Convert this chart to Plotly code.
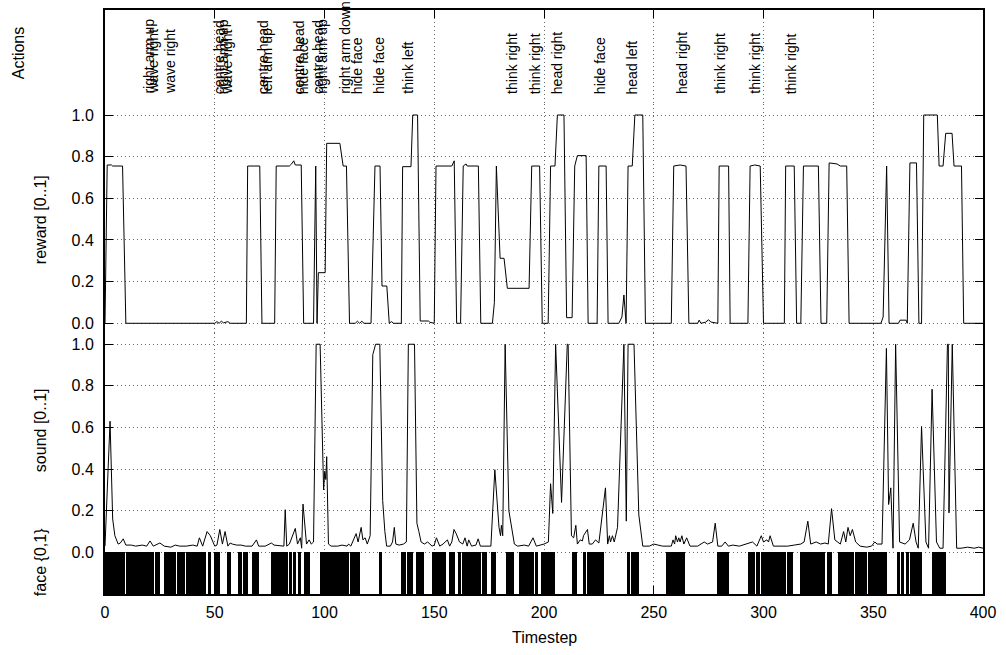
import numpy as np
import plotly.graph_objects as go

# ---------------- data ----------------
n_steps = 400

reward_t = [0, 1, 3, 3.5, 8, 9.5, 50, 51, 52, 53, 54, 56, 57, 64.4, 65, 70.5, 71.5, 77.3, 78, 84, 85, 86, 86.7,
            89.4, 90.5, 95, 96, 96.6, 97.2, 100.3, 101, 107, 108.5, 110, 111.4, 114, 115, 116, 117, 118, 121.2,
            123, 125.3, 126.2, 128.4, 129.5, 130.5, 131.5, 135, 135.6, 139.4, 140.2, 142.4, 143.6, 147.4, 148,
            150, 150.8, 158, 159.1, 160.2, 162, 163.2, 164.5, 165, 170.1, 171.2, 176.5, 177.4, 178.3, 180, 181.8,
            183.3, 193.2, 194.4, 198, 199.2, 201.9, 203, 205, 206.1, 209.1, 210.3, 212.8, 214, 215.2, 219.2,
            220.1, 224.2, 225, 228.3, 229.2, 234.1, 235.5, 236.4, 237.4, 238.3, 240.2, 241.4, 245, 246.2, 258,
            259.1, 262, 264.7, 266, 270, 270.7, 271.5, 273.5, 275, 276, 279.2, 279.8, 284.1, 284.8, 292.9, 293.9,
            296, 298.5, 300, 309.5, 310.1, 314, 315.1, 317, 318.2, 325, 326.2, 328.8, 329.9, 333.5, 335, 337.9,
            339, 353.5, 354.5, 356.1, 357.2, 361.5, 362.2, 365, 365.5, 366.7, 369.7, 370.8, 372, 373, 379.2, 380,
            381.8, 383, 385.9, 386.8, 390.2, 391.2, 400]
reward_v = [0.0, 0.76, 0.76, 0.755, 0.755, 0.0, 0.0, 0.008, 0.0, 0.01, 0.002, 0.008, 0.0, 0.0, 0.755, 0.755,
            0.0, 0.0, 0.755, 0.755, 0.765, 0.78, 0.76, 0.76, 0.0, 0.0, 0.755, 0.0, 0.243, 0.243, 0.864, 0.864,
            0.755, 0.755, 0.0, 0.0, 0.01, 0.0, 0.01, 0.0, 0.0, 0.755, 0.755, 0.179, 0.179, 0.0, 0.008, 0.0, 0.0,
            0.752, 0.752, 1.0, 1.0, 0.011, 0.011, 0.005, 0.0, 0.755, 0.755, 0.78, 0.0, 0.0, 0.755, 0.765, 0.755,
            0.755, 0.0, 0.0, 0.1, 0.755, 0.312, 0.312, 0.168, 0.168, 0.755, 0.755, 0.0, 0.0, 0.755, 0.755, 1.0,
            1.0, 0.027, 0.027, 0.755, 0.805, 0.805, 0.0, 0.0, 0.755, 0.755, 0.0, 0.0, 0.03, 0.136, 0.0, 0.755,
            0.755, 1.0, 1.0, 0.0, 0.0, 0.755, 0.76, 0.755, 0.0, 0.0, 0.015, 0.0, 0.005, 0.017, 0.006, 0.0, 0.755,
            0.755, 0.0, 0.0, 0.755, 0.76, 0.755, 0.0, 0.0, 0.755, 0.755, 0.0, 0.0, 0.755, 0.755, 0.0, 0.0, 0.77,
            0.765, 0.755, 0.755, 0.0, 0.0, 0.03, 0.755, 0.0, 0.0, 0.015, 0.015, 0.0, 0.77, 0.77, 0.0, 0.0, 1.0,
            1.0, 0.755, 0.755, 0.912, 0.912, 0.755, 0.755, 0.0, 0.0]

sound_t = [0, 1, 2.3, 3.5, 4.5, 6, 7, 8.3, 9.5, 12, 14, 17, 19, 20.5, 22, 25, 27, 30, 32, 34, 37, 40, 42, 43,
           44.5, 46.5, 48, 50, 51, 52.3, 53.5, 54.7, 56, 57, 58, 60, 62, 64, 67, 69, 70, 73, 75.8, 77, 80, 81.5,
           82.1, 82.8, 84, 86.7, 87.7, 89, 89.6, 90.2, 91.8, 93, 94, 95, 96.2, 98, 99.6, 100.1, 100.6, 101, 101.8,
           103, 106, 108, 110.3, 111, 112, 114.4, 115.3, 116.7, 117.5, 118.5, 119.5, 120.8, 122, 123.3, 125.2,
           126.5, 127.5, 128.3, 130, 131, 131.8, 132.5, 134, 136, 137.3, 138.2, 141, 142.1, 143, 144, 145.5, 147,
           149, 150, 151, 152.5, 154, 156, 157, 158, 159, 160, 161.5, 163, 164, 165, 165.7, 167, 169, 170, 171,
           173, 175.8, 177.6, 179.5, 180.2, 180.6, 181.2, 182.3, 184, 185.3, 186.5, 188, 191, 193, 195, 196.5,
           199, 200, 202, 203, 204, 205.3, 208, 210.6, 211, 212.5, 213.5, 214.5, 215.2, 216.5, 217.5, 218,
           219.8, 220.6, 222, 223.5, 225, 228, 229, 229.8, 230.3, 231.2, 232, 233.5, 236.4, 237.5, 238.3, 241,
           243.2, 244, 245, 248, 250, 252, 254, 256, 258, 258.8, 259.5, 260, 260.8, 261.4, 262, 262.8, 263.7,
           265, 266.5, 270, 273, 274.5, 276.8, 278, 279.2, 281, 282.5, 284, 286, 289, 292, 295, 297, 299, 300,
           301.5, 302.3, 303, 304.5, 308, 311, 314, 317, 318.5, 320.2, 321.5, 324, 326, 328, 329.5, 331, 332.5,
           335, 336.5, 337.5, 338.5, 339.5, 340.5, 342, 344, 347, 349.2, 350.7, 351.8, 354, 356, 357, 358, 359,
           360.2, 362, 364.5, 366.5, 368.2, 369.5, 370.5, 372, 374, 375.2, 376.8, 378.8, 380.3, 381.8, 383.8,
           384.2, 384.5, 386, 388, 390, 393, 396, 398, 400]
sound_v = [0.03, 0.3, 0.63, 0.16, 0.08, 0.04, 0.045, 0.065, 0.035, 0.035, 0.03, 0.035, 0.03, 0.055, 0.03, 0.045,
           0.03, 0.025, 0.035, 0.03, 0.03, 0.035, 0.03, 0.07, 0.03, 0.1, 0.08, 0.03, 0.035, 0.11, 0.04, 0.1, 0.03,
           0.045, 0.04, 0.035, 0.035, 0.03, 0.03, 0.06, 0.03, 0.03, 0.045, 0.035, 0.03, 0.03, 0.205, 0.03, 0.04,
           0.115, 0.04, 0.07, 0.02, 0.232, 0.04, 0.06, 0.04, 0.05, 1.0, 1.0, 0.3, 0.39, 0.35, 0.46, 0.04, 0.03,
           0.03, 0.035, 0.03, 0.04, 0.03, 0.09, 0.05, 0.12, 0.06, 0.07, 0.04, 0.08, 0.95, 1.0, 1.0, 0.25, 0.1,
           0.03, 0.03, 0.05, 0.12, 0.04, 0.035, 0.04, 0.05, 1.0, 1.0, 0.14, 0.1, 0.05, 0.04, 0.05, 0.03, 0.035,
           0.07, 0.03, 0.04, 0.06, 0.03, 0.05, 0.11, 0.09, 0.05, 0.04, 0.07, 0.03, 0.06, 0.03, 0.035, 0.065, 0.03,
           0.03, 0.03, 0.397, 0.12, 0.08, 0.13, 0.08, 1.0, 0.2, 0.12, 0.04, 0.03, 0.035, 0.03, 0.07, 0.03, 0.035,
           0.04, 0.05, 0.33, 0.187, 1.0, 0.24, 1.0, 1.0, 0.08, 0.07, 0.13, 0.04, 0.06, 0.055, 0.08, 0.11, 0.04,
           0.04, 0.06, 0.045, 0.31, 0.04, 0.08, 0.05, 0.08, 0.05, 0.12, 1.0, 0.15, 1.0, 1.0, 0.18, 0.1, 0.03,
           0.03, 0.04, 0.035, 0.03, 0.03, 0.03, 0.06, 0.04, 0.08, 0.05, 0.07, 0.05, 0.08, 0.04, 0.07, 0.03, 0.03,
           0.05, 0.04, 0.05, 0.14, 0.03, 0.03, 0.05, 0.03, 0.035, 0.03, 0.04, 0.05, 0.03, 0.08, 0.05, 0.06, 0.05,
           0.08, 0.03, 0.03, 0.03, 0.035, 0.04, 0.05, 0.15, 0.04, 0.05, 0.04, 0.045, 0.04, 0.21, 0.06, 0.04, 0.1,
           0.05, 0.12, 0.08, 0.11, 0.05, 0.03, 0.025, 0.03, 0.05, 0.04, 0.04, 0.98, 0.23, 0.31, 0.02, 1.0, 0.05,
           0.04, 0.06, 0.14, 0.05, 0.02, 0.605, 0.05, 0.02, 0.784, 0.05, 0.02, 0.02, 1.0, 1.0, 0.19, 1.0, 0.02,
           0.02, 0.025, 0.02, 0.025, 0.02]

# timesteps (inclusive ranges) where face = 0; face = 1 elsewhere
face_gap_start = [9, 22, 25, 32, 36, 46, 48, 52, 57, 62, 65, 70, 83, 85, 87, 89, 93, 111, 116, 126, 137, 140,
                  145, 155, 159, 162, 171, 174, 178, 186, 195, 197, 205, 215, 219, 227, 239, 243, 264, 284, 296,
                  298, 310, 313, 328, 331, 341, 347, 356, 362, 364, 366, 372, 383]
face_gap_end = [9, 22, 26, 32, 36, 46, 49, 55, 60, 62, 66, 75, 83, 85, 87, 90, 97, 111, 124, 134, 137, 141,
                148, 156, 160, 162, 171, 175, 182, 188, 195, 198, 212, 217, 219, 237, 239, 255, 278, 292, 296,
                298, 310, 316, 328, 333, 341, 347, 360, 362, 364, 366, 376, 399]

action_labels = ["right arm up", "wave right", "wave right", "centre head", "right arm up", "wave right",
                 "centre head", "left arm up", "centre head", "hide face", "centre head", "right arm up",
                 "right arm down", "hide face", "hide face", "think left", "think right", "think right",
                 "head right", "hide face", "head left", "head right", "think right", "think right",
                 "think right"]
action_t = [20.1, 22, 29.8, 52, 54.1, 56, 72, 74, 88.6, 90.6, 97, 99, 109.5, 115.2, 125, 137.9, 185.6, 196.2,
            206, 225.8, 240.3, 262.9, 280.3, 296.2, 312.9]

x_ticks = [0, 50, 100, 150, 200, 250, 300, 350, 400]
y_ticks = [0.0, 0.2, 0.4, 0.6, 0.8, 1.0]
y_ticklabels = ["0.0", "0.2", "0.4", "0.6", "0.8", "1.0"]

# ---------------- build ----------------
face = np.ones(n_steps)
for s, e in zip(face_gap_start, face_gap_end):
    face[s:e + 1] = 0
face_x = [t + 0.5 for t in range(n_steps) if face[t] == 1]

FONT = "Liberation Sans, Arial, Helvetica, sans-serif"
TICK_FS = 16
TITLE_FS = 16
LABEL_FS = 14
GRID = dict(showgrid=True, gridcolor="#666666", griddash="1px,3px", gridwidth=1)

fig = go.Figure()
fig.add_trace(go.Bar(x=face_x, y=[0.2] * len(face_x), base=-0.2, width=1.45,
                     marker=dict(color="black", line=dict(width=0)),
                     xaxis="x", yaxis="y", showlegend=False, hoverinfo="skip"))
fig.add_trace(go.Scatter(x=sound_t, y=sound_v, mode="lines", line=dict(color="black", width=1),
                         xaxis="x", yaxis="y", showlegend=False))
fig.add_trace(go.Scatter(x=reward_t, y=reward_v, mode="lines", line=dict(color="black", width=1),
                         xaxis="x2", yaxis="y2", showlegend=False))
fig.add_trace(go.Scatter(x=[None], y=[None], mode="lines", xaxis="x3", yaxis="y3", showlegend=False,
                         hoverinfo="skip"))

px_left, px_right, px_top, px_bot = 105, 985, 10, 594
W, Hh = 1006, 655
H = px_bot - px_top
PW = px_right - px_left


def frac(py):
    return (px_bot - py) / H


def xfrac(px):
    return (px - px_left) / PW


d_sound = frac(333)
d_reward = frac(104)

common_x = dict(range=[0, 400], tickvals=x_ticks, zeroline=False, **GRID)
fig.update_layout(
    width=W, height=Hh,
    margin=dict(l=px_left, r=W - px_right, t=px_top, b=Hh - px_bot, pad=0),
    paper_bgcolor="white", plot_bgcolor="white",
    font=dict(family=FONT, size=TICK_FS, color="black"),
    bargap=0,
    xaxis=dict(domain=[0, 1], anchor="y", showline=True, linecolor="black", linewidth=2,
               ticks="inside", ticklen=8, tickcolor="black", tickwidth=1, ticklabelstandoff=3,
               ticktext=[str(v) for v in x_ticks], tickfont=dict(size=TICK_FS), **common_x),
    xaxis2=dict(domain=[0, 1], anchor="y2", matches="x", showticklabels=False, ticks="",
                showline=False, **common_x),
    xaxis3=dict(domain=[0, 1], anchor="y3", matches="x", side="top", showticklabels=False,
                ticks="inside", ticklen=8, tickcolor="black", showline=True, linecolor="black",
                linewidth=2, **common_x),
    yaxis=dict(domain=[0, d_sound], anchor="x", range=[-0.2, 1.054], tickvals=y_ticks,
               ticktext=y_ticklabels, ticks="inside", ticklen=8, tickcolor="black", ticklabelstandoff=6,
               tickfont=dict(size=TICK_FS),
               showline=True, linecolor="black", linewidth=2, mirror="ticks", zeroline=False, **GRID),
    yaxis2=dict(domain=[d_sound, d_reward], anchor="x2", range=[-0.0466, 1.0528], tickvals=y_ticks,
                ticktext=y_ticklabels, ticks="inside", ticklen=8, tickcolor="black", ticklabelstandoff=6,
                tickfont=dict(size=TICK_FS),
                showline=True, linecolor="black", linewidth=2, mirror="ticks", zeroline=False, **GRID),
    yaxis3=dict(domain=[d_reward, 1], anchor="x3", range=[0, 1], showticklabels=False, ticks="",
                showgrid=False, showline=True, linecolor="black", linewidth=2, mirror=True, zeroline=False),
)

annotations = []
label_base = frac(95)
for lab, t in zip(action_labels, action_t):
    annotations.append(dict(x=t, xref="x3", y=label_base, yref="paper", text=lab, textangle=-90,
                            xanchor="center", yanchor="bottom", showarrow=False,
                            font=dict(size=LABEL_FS, family=FONT, color="black"), borderpad=0))

side_titles = [("Actions", 18, 53), ("reward [0..1]", 40, 220), ("sound [0..1]", 40, 430),
               ("face {0,1}", 40, 562)]
for txt, px, py in side_titles:
    annotations.append(dict(x=xfrac(px), xref="paper", y=frac(py), yref="paper", text=txt,
                            textangle=-90, xanchor="center", yanchor="middle", showarrow=False,
                            font=dict(size=TITLE_FS, family=FONT, color="black")))
annotations.append(dict(x=0.5, xref="paper", y=frac(637), yref="paper", text="Timestep",
                        xanchor="center", yanchor="middle", showarrow=False,
                        font=dict(size=TITLE_FS, family=FONT, color="black")))
fig.update_layout(annotations=annotations)

# remove the browser's default 8px body margin so the figure fills the window exactly
fig.write_html("out.html", config={"displayModeBar": False},
               post_script="document.body.style.margin='0px';")
